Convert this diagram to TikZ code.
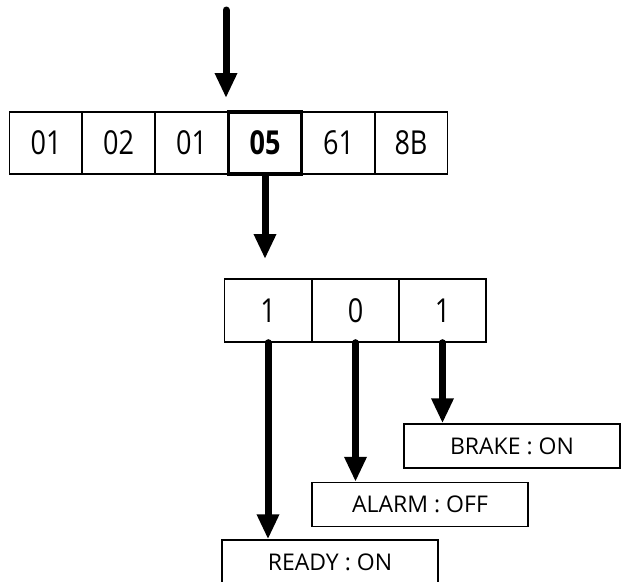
\documentclass[tikz,border=0pt]{standalone}
\usepackage{fontspec}
\setmainfont{Open Sans}
\newfontfamily\narrowfont[FakeStretch=0.82]{Open Sans}
\usetikzlibrary{arrows.meta}
\begin{document}
\begin{tikzpicture}[x=1pt,y=-1pt,
  cell/.style={draw,line width=1.4pt,minimum width=73pt,minimum height=62pt,inner sep=0pt,font=\narrowfont\fontsize{33}{36}\selectfont},
  hicell/.style={cell,line width=3.2pt,font=\narrowfont\fontsize{33}{36}\selectfont\bfseries},
  bit/.style={draw,line width=1.4pt,minimum width=87pt,minimum height=63pt,inner sep=0pt,font=\narrowfont\fontsize{33}{36}\selectfont},
  lbl/.style={draw,line width=1.4pt,minimum width=216pt,minimum height=44pt,inner sep=0pt,font=\fontsize{23}{26}\selectfont},
  bigarrow/.style={line width=7pt,line cap=round,-{Triangle[width=21pt,length=25pt]}}
]
\useasboundingbox (0,0) rectangle (623,581);
\clip (0,0) rectangle (623,581);
% top row
\node[cell] (c1) at (46,143) {01};
\node[cell] (c2) at (118.5,143) {02};
\node[cell] (c3) at (191.5,143) {01};
\node[cell] (c5) at (338.5,143) {61};
\node[cell] (c6) at (411,143) {8B};
\node[hicell] (c4) at (265,143) {05};
% bits
\node[bit] (b1) at (268,310.5) {1};
\node[bit] (b2) at (355.5,310.5) {0};
\node[bit] (b3) at (442.5,310.5) {1};
% labels
\node[lbl] (brake) at (512,446) {BRAKE : ON};
\node[lbl] (alarm) at (420,504.5) {ALARM : OFF};
\node[lbl] (ready) at (330,562) {READY : ON};
% arrows
\coordinate (topstart) at (226,10);
\coordinate (topend) at (226,98);
\draw[bigarrow] (topstart) -- (topend);
\coordinate (midend) at (265,259);
\draw[bigarrow] (c4.south) -- (midend);
\draw[bigarrow] (b1.south) -- (b1.south |- ready.north);
\draw[bigarrow] (b2.south) -- (b2.south |- alarm.north);
\draw[bigarrow] (b3.south) -- (b3.south |- brake.north);
\end{tikzpicture}
\end{document}
